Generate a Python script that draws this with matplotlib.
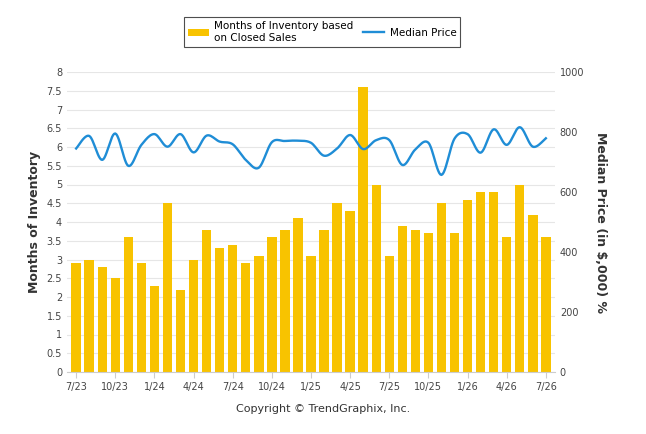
import numpy as np
import matplotlib.pyplot as plt

months = ['7/23', '8/23', '9/23', '10/23', '11/23', '12/23', '1/24', '2/24', '3/24', '4/24',
          '5/24', '6/24', '7/24', '8/24', '9/24', '10/24', '11/24', '12/24', '1/25', '2/25',
          '3/25', '4/25', '5/25', '6/25', '7/25', '8/25', '9/25', '10/25', '11/25', '12/25',
          '1/26', '2/26', '3/26', '4/26', '5/26', '6/26', '7/26']
inventory = [2.9, 3.0, 2.8, 2.5, 3.6, 2.9, 2.3, 4.5, 2.2, 3.0,
             3.8, 3.3, 3.4, 2.9, 3.1, 3.6, 3.8, 4.1, 3.1, 3.8,
             4.5, 4.3, 7.6, 5.0, 3.1, 3.9, 3.8, 3.7, 4.5, 3.7,
             4.6, 4.8, 4.8, 3.6, 5.0, 4.2, 3.6]
price = [745, 787, 707, 795, 687, 757, 793, 751, 793, 732,
         788, 768, 759, 707, 681, 766, 770, 771, 764, 721,
         745, 790, 743, 773, 773, 690, 742, 764, 657, 778,
         793, 731, 809, 757, 816, 751, 779]

# smooth curve through the points (catmull-rom), just for drawing
def smooth(x, y, n=12):
    x = np.asarray(x, float); y = np.asarray(y, float)
    px = np.concatenate([[x[0]], x, [x[-1]]])
    py = np.concatenate([[y[0]], y, [y[-1]]])
    xs, ys = [], []
    t = np.linspace(0, 1, n, endpoint=False)
    for i in range(1, len(px) - 2):
        for p, out in ((px, xs), (py, ys)):
            p0, p1, p2, p3 = p[i-1], p[i], p[i+1], p[i+2]
            out.extend(0.5 * (2*p1 + (-p0+p2)*t + (2*p0-5*p1+4*p2-p3)*t**2 + (-p0+3*p1-3*p2+p3)*t**3))
    xs.append(x[-1]); ys.append(y[-1])
    return xs, ys

x = np.arange(len(months))
fig = plt.figure(figsize=(6.46, 4.34), dpi=100)
ax = fig.add_axes([67/646, 62/434, 488/646, 300/434])
ax.set_axisbelow(True)
ax.yaxis.grid(True, color='#e6e6e6', lw=0.8)
bars = ax.bar(x, inventory, width=0.72, color='#F8C300', label='Months of Inventory based\non Closed Sales')
ax.set_ylim(0, 8)
ax.set_yticks(np.arange(0, 8.01, 0.5))
ax.set_yticklabels([('%g' % v) for v in np.arange(0, 8.01, 0.5)])
ax.set_xlim(-0.7, len(months) - 0.3)
ax.set_xticks(x[::3])
ax.set_xticklabels(months[::3])
ax.set_ylabel('Months of Inventory', fontsize=9, fontweight='bold', color='#333333')

ax2 = ax.twinx()
sx, sy = smooth(x, price)
line, = ax2.plot(sx, sy, color='#1F8DD6', lw=1.7, label='Median Price')
ax2.set_ylim(0, 1000)
ax2.set_yticks(range(0, 1001, 200))
ax2.set_ylabel('Median Price (in $,000) %', fontsize=9, fontweight='bold', color='#333333',
               rotation=-90, labelpad=16)

for a in (ax, ax2):
    a.tick_params(labelsize=7, colors='#444444', length=0)
    for s in a.spines.values():
        s.set_visible(False)
ax.tick_params(axis='x', length=4, color='#cccccc')
ax.spines['bottom'].set_visible(True)
ax.spines['bottom'].set_color('#cccccc')

leg = fig.legend([bars, line], [bars.get_label(), 'Median Price'], loc='center',
                 bbox_to_anchor=(322/646, 1 - 32/434), ncol=2, fontsize=7.5, frameon=True,
                 fancybox=False, edgecolor='#222222', handlelength=2, columnspacing=1.0,
                 handletextpad=0.5, borderpad=0.4)
leg.get_frame().set_linewidth(0.8)
fig.text(0.5, 1 - 409/434, 'Copyright \u00a9 TrendGraphix, Inc.', ha='center', va='center',
         fontsize=8, color='#333333')
fig.savefig('out.png', dpi=100)
